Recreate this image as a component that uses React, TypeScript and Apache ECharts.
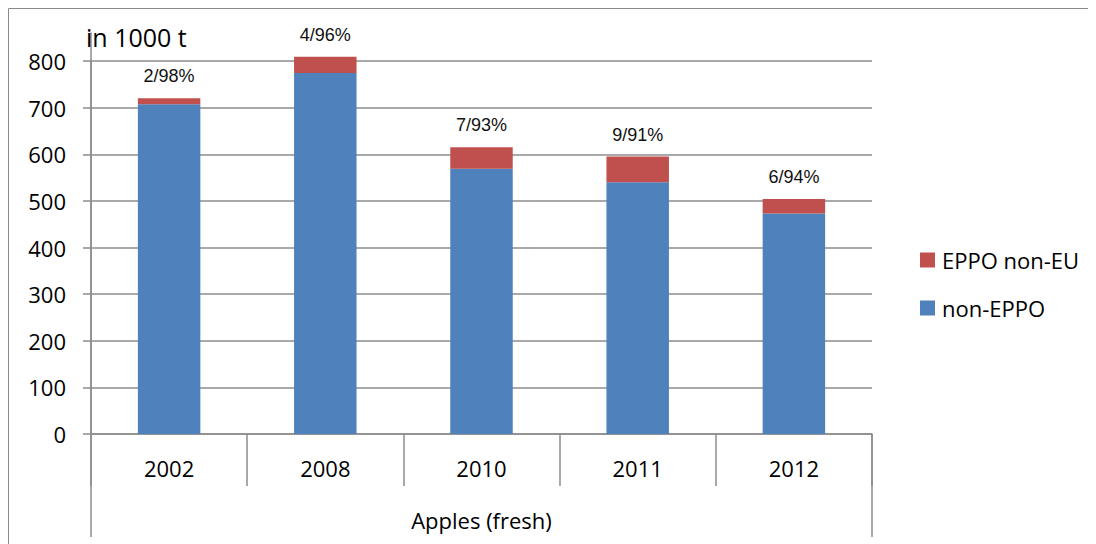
import React, { useEffect, useRef } from "react";
import * as echarts from "echarts";

const years = ["2002", "2008", "2010", "2011", "2012"];
const groupLabel = ["Apples (fresh)"];
const nonEppo = [707, 774, 569, 540, 473];
const eppoNonEu = [13, 35, 46, 55, 31];
const shareLabels = ["2/98%", "4/96%", "7/93%", "9/91%", "6/94%"];
const yTicks = { min: 0, max: 800, interval: 100 };

const BLUE = "#4F81BD";
const RED = "#C0504D";
const GRAY = "#8c8c8c";
const FONT = "Open Sans";

export default function App() {
  const ref = useRef<HTMLDivElement>(null);
  useEffect(() => {
    if (!ref.current) return;
    const chart = echarts.init(ref.current, null, { renderer: "svg" });
    chart.setOption({
      animation: false,
      backgroundColor: "#ffffff",
      title: {
        text: "in 1000 t",
        left: 78,
        top: 14,
        padding: 0,
        textStyle: { fontFamily: FONT, fontSize: 25, fontWeight: "normal", color: "#000", lineHeight: 30 },
      },
      graphic: [
        {
          type: "rect",
          shape: { x: 0.5, y: 0.5, width: 1082.5, height: 700 },
          style: { fill: "none", stroke: "#8a8a8a", lineWidth: 1 },
          silent: true,
          z: -10,
        },
      ],
      legend: {
        data: ["EPPO non-EU", "non-EPPO"],
        orient: "vertical",
        left: 907,
        top: 236,
        itemWidth: 15,
        itemHeight: 15,
        itemGap: 26,
        icon: "rect",
        textStyle: { fontFamily: FONT, fontSize: 22, color: "#000", lineHeight: 22, padding: [0, 0, 0, 2] },
      },
      grid: [
        { left: 83, right: 220, top: 53, height: 373 },
        { left: 83, right: 220, top: 25, height: 401 },
      ],
      xAxis: [
        {
          type: "category",
          gridIndex: 0,
          data: years,
          position: "bottom",
          axisLine: { show: true, lineStyle: { color: GRAY, width: 1.5 } },
          axisTick: { show: true, interval: 0, length: 52, lineStyle: { color: GRAY, width: 1.5 } },
          axisLabel: { interval: 0, margin: 23, fontFamily: FONT, fontSize: 22, color: "#000" },
        },
        {
          type: "category",
          gridIndex: 0,
          data: groupLabel,
          position: "bottom",
          axisLine: { show: false },
          axisTick: { show: true, length: 103, lineStyle: { color: GRAY, width: 1.5 } },
          axisLabel: { margin: 75, fontFamily: FONT, fontSize: 22, color: "#000" },
        },
        {
          type: "category",
          gridIndex: 1,
          data: years,
          show: false,
        },
      ],
      yAxis: [
        {
          type: "value",
          gridIndex: 0,
          min: yTicks.min,
          max: yTicks.max,
          interval: yTicks.interval,
          axisLine: { show: true, lineStyle: { color: GRAY, width: 1.5 } },
          axisTick: { show: true, length: 8, lineStyle: { color: GRAY, width: 1.5 } },
          axisLabel: { margin: 25, fontFamily: FONT, fontSize: 22, color: "#000" },
          splitLine: { show: true, lineStyle: { color: GRAY, width: 1.5 } },
        },
        {
          type: "value",
          gridIndex: 1,
          min: 0,
          max: 1,
          axisLine: { show: true, lineStyle: { color: GRAY, width: 1.5 } },
          axisTick: { show: false },
          axisLabel: { show: false },
          splitLine: { show: false },
        },
      ],
      series: [
        {
          name: "non-EPPO",
          type: "bar",
          stack: "total",
          xAxisIndex: 0,
          yAxisIndex: 0,
          data: nonEppo,
          clip: false,
          barCategoryGap: "60%",
          itemStyle: { color: BLUE },
        },
        {
          name: "EPPO non-EU",
          type: "bar",
          stack: "total",
          xAxisIndex: 0,
          yAxisIndex: 0,
          data: eppoNonEu,
          clip: false,
          barCategoryGap: "60%",
          itemStyle: { color: RED },
          label: {
            show: true,
            position: "top",
            distance: 13,
            formatter: (p: any) => shareLabels[p.dataIndex],
            fontFamily: "Liberation Sans",
            fontSize: 18,
            color: "#111",
          },
        },
      ],
    });
    return () => chart.dispose();
  }, []);
  return <div ref={ref} style={{ width: 1084, height: 536 }} />;
}
